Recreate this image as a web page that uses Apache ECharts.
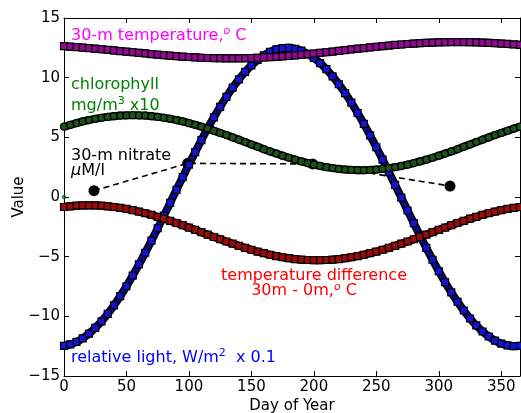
<!DOCTYPE html>
<html><head><meta charset="utf-8">
<script src="https://cdn.jsdelivr.net/npm/echarts@6/dist/echarts.min.js"></script>
<style>html,body{margin:0;padding:0;background:#fff;overflow:hidden}#c{width:521px;height:413px}</style>
</head><body><div id="c"></div>
<script>
const days = [0,5,10,15,20,25,30,35,40,45,50,55,60,65,70,75,80,85,90,95,100,105,110,115,120,125,130,135,140,145,150,155,160,165,170,175,180,185,190,195,200,205,210,215,220,225,230,235,240,245,250,255,260,265,270,275,280,285,290,295,300,305,310,315,320,325,330,335,340,345,350,355,360,365];
const temp30 = [12.64,12.60,12.56,12.52,12.48,12.43,12.38,12.33,12.28,12.23,12.18,12.13,12.08,12.04,11.98,11.93,11.88,11.84,11.80,11.76,11.73,11.70,11.67,11.65,11.64,11.63,11.62,11.62,11.62,11.63,11.65,11.67,11.69,11.72,11.75,11.79,11.83,11.87,11.92,11.97,12.02,12.08,12.13,12.19,12.25,12.31,12.37,12.43,12.48,12.54,12.59,12.64,12.69,12.74,12.78,12.82,12.86,12.89,12.92,12.94,12.96,12.97,12.98,12.98,12.98,12.97,12.96,12.94,12.92,12.89,12.86,12.83,12.79,12.75];
const chlorophyll = [5.89,6.05,6.19,6.33,6.45,6.55,6.64,6.71,6.77,6.82,6.84,6.85,6.84,6.82,6.77,6.71,6.64,6.55,6.45,6.33,6.19,6.05,5.89,5.73,5.55,5.37,5.19,4.99,4.80,4.60,4.40,4.21,4.01,3.82,3.64,3.46,3.29,3.13,2.98,2.84,2.71,2.60,2.50,2.42,2.35,2.30,2.27,2.25,2.25,2.27,2.30,2.35,2.42,2.50,2.60,2.71,2.84,2.98,3.13,3.29,3.46,3.64,3.82,4.01,4.21,4.40,4.60,4.80,4.99,5.19,5.37,5.55,5.73,5.89];
const tempDiff = [-0.84,-0.78,-0.73,-0.71,-0.70,-0.71,-0.73,-0.78,-0.84,-0.91,-1.00,-1.10,-1.22,-1.36,-1.50,-1.66,-1.82,-2.00,-2.18,-2.36,-2.56,-2.75,-2.95,-3.15,-3.35,-3.54,-3.73,-3.91,-4.09,-4.26,-4.42,-4.57,-4.71,-4.84,-4.95,-5.05,-5.13,-5.20,-5.25,-5.28,-5.30,-5.30,-5.28,-5.25,-5.20,-5.13,-5.05,-4.95,-4.84,-4.71,-4.57,-4.42,-4.26,-4.09,-3.91,-3.73,-3.54,-3.35,-3.15,-2.95,-2.75,-2.56,-2.36,-2.18,-2.00,-1.82,-1.66,-1.50,-1.36,-1.22,-1.10,-1.00,-0.91,-0.84];
const light = [-12.47,-12.35,-12.14,-11.84,-11.45,-10.97,-10.42,-9.79,-9.08,-8.31,-7.48,-6.59,-5.65,-4.67,-3.66,-2.62,-1.56,-0.48,0.59,1.66,2.72,3.76,4.77,5.75,6.68,7.56,8.39,9.16,9.85,10.48,11.03,11.49,11.87,12.16,12.37,12.48,12.50,12.42,12.26,12.00,11.65,11.22,10.71,10.11,9.45,8.71,7.91,7.04,6.13,5.17,4.17,3.14,2.09,1.02,-0.05,-1.13,-2.19,-3.24,-4.27,-5.26,-6.22,-7.13,-7.99,-8.78,-9.51,-10.18,-10.76,-11.27,-11.69,-12.03,-12.28,-12.43,-12.50,-12.47];
const nitrateDays = [24,99,199,309];
const nitrate = [0.53,2.82,2.77,0.92];
const extraDays = [0];
const extraVals = [0];
const xTicks = [0,50,100,150,200,250,300,350];
const yTicks = [-15,-10,-5,0,5,10,15];

const FONT = 'DejaVu Sans';
const pairs = (xs, ys) => xs.map((x, i) => [x, ys[i]]);

function band(data, fill, lineColor, symbol) {
  return [
    {type:'line', data, smooth:true, symbol:'none', lineStyle:{color:'#000', width:8}, silent:true, animation:false},
    {type:'line', data, smooth:true, symbol, symbolSize:7, showAllSymbol:true,
     itemStyle:{color:fill, borderColor:'#000', borderWidth:1.2},
     lineStyle:{color:lineColor, width:5}, silent:true, animation:false}
  ];
}

function rich(parts, color) {
  return {n:{fill:color, fontSize:16, fontFamily:FONT, lineHeight:19},
          s:{fill:color, fontSize:11, fontFamily:FONT, verticalAlign:'top', lineHeight:19},
          i:{fill:color, fontSize:11, fontStyle:'italic', fontFamily:FONT, verticalAlign:'top', lineHeight:19},
          g:{fill:color, fontSize:16, fontStyle:'italic', fontFamily:FONT, lineHeight:19}};
}

const chart = echarts.init(document.getElementById('c'), null, {renderer:'canvas'});
const axisCommon = {
  type:'value',
  axisLine:{show:true, onZero:false, lineStyle:{color:'#000', width:1}},
  axisTick:{show:true, inside:true, length:5, lineStyle:{color:'#000', width:1}},
  splitLine:{show:false}
};
const minus = v => String(v).replace('-', '\u2212');
chart.setOption({
  animation:false,
  grid:{left:64, right:1, top:18, bottom:37, containLabel:false, outerBoundsMode:'none'},
  xAxis:[
    Object.assign({}, axisCommon, {min:0, max:365, interval:50, position:'bottom',
      axisLabel:{color:'#000', fontSize:15, fontFamily:FONT, margin:4, showMaxLabel:false,
        formatter: v => xTicks.includes(v) ? minus(v) : ''},
      name:'Day of Year', nameLocation:'middle', nameGap:23, nameMoveOverlap:false,
      nameTextStyle:{color:'#000', fontSize:15, fontFamily:FONT}}),
    Object.assign({}, axisCommon, {min:0, max:365, interval:50, position:'top', axisLabel:{show:false}})
  ],
  yAxis:[
    Object.assign({}, axisCommon, {min:-15, max:15, interval:5, position:'left',
      axisLabel:{color:'#000', fontSize:15, fontFamily:FONT, margin:4,
        formatter: v => yTicks.includes(v) ? minus(v) : ''},
      name:'Value', nameLocation:'middle', nameGap:37, nameMoveOverlap:false,
      nameTextStyle:{color:'#000', fontSize:15, fontFamily:FONT}}),
    Object.assign({}, axisCommon, {min:-15, max:15, interval:5, position:'right', axisLabel:{show:false}})
  ],
  series:[
    {type:'line', data:pairs(nitrateDays, nitrate), symbol:'circle', symbolSize:11,
     itemStyle:{color:'#000'}, lineStyle:{color:'#000', width:1.6, type:[6,4]}, silent:true},
    ...band(pairs(days, light), '#1414d8', '#0a0a90', 'rect'),
    ...band(pairs(days, temp30), '#900a90', '#500050', 'rect'),
    ...band(pairs(days, chlorophyll), '#1c521c', '#0c2a0c', 'circle'),
    ...band(pairs(days, tempDiff), '#9a0c0c', '#500606', 'rect'),
    {type:'scatter', data:pairs(extraDays, extraVals), symbol:'circle', symbolSize:4,
     itemStyle:{color:'#008000', borderColor:'#004000', borderWidth:0.5}, silent:true}
  ],
  graphic:[
    {type:'text', left:71, top:26, z:100, style:{text:'{n|30-m temperature,}{i|o}{n| C}', rich:rich(0,'#ff00ff')}},
    {type:'text', left:71, top:77, z:100, style:{text:'{n|chlorophyll}', rich:rich(0,'#008000')}},
    {type:'text', left:71, top:96, z:100, style:{text:'{n|mg/m}{s|3}{n| x10}', rich:rich(0,'#008000')}},
    {type:'text', left:71, top:148, z:100, style:{text:'{n|30-m nitrate}', rich:rich(0,'#000')}},
    {type:'text', left:71, top:163, z:100, style:{text:'{g|\u03bc}{n|M/l}', rich:rich(0,'#000')}},
    {type:'text', x:314, y:276, z:100, style:{text:'{n|temperature difference}', textAlign:'center', textVerticalAlign:'middle', rich:rich(0,'#ff0000')}},
    {type:'text', x:304, y:291, z:100, style:{text:'{n|30m - 0m,}{i|o}{n| C}', textAlign:'center', textVerticalAlign:'middle', rich:rich(0,'#ff0000')}},
    {type:'text', left:71, top:348, z:100, style:{text:'{n|relative light, W/m}{s|2}{n|  x 0.1}', rich:rich(0,'#0000ff')}}
  ]
});
</script></body></html>
